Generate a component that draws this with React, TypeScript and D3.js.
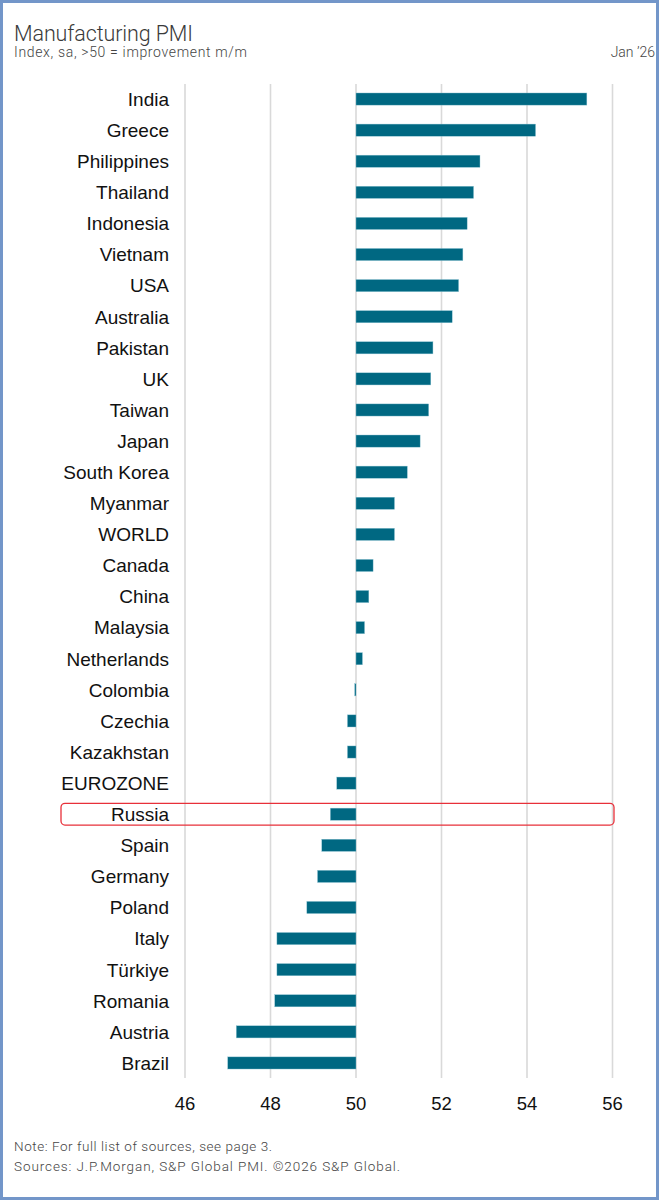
import * as d3 from "d3";

const countries = [
  "India", "Greece", "Philippines", "Thailand", "Indonesia", "Vietnam", "USA", "Australia",
  "Pakistan", "UK", "Taiwan", "Japan", "South Korea", "Myanmar", "WORLD", "Canada",
  "China", "Malaysia", "Netherlands", "Colombia", "Czechia", "Kazakhstan", "EUROZONE", "Russia",
  "Spain", "Germany", "Poland", "Italy", "Türkiye", "Romania", "Austria", "Brazil",
];

const pmi = [
  55.4, 54.2, 52.9, 52.75, 52.6, 52.5, 52.4, 52.25,
  51.8, 51.75, 51.7, 51.5, 51.2, 50.9, 50.9, 50.4,
  50.3, 50.2, 50.15, 49.97, 49.8, 49.8, 49.55, 49.4,
  49.2, 49.1, 48.85, 48.15, 48.15, 48.1, 47.2, 47.0,
];

const xTicks = [46, 48, 50, 52, 54, 56];
const highlighted = "Russia";

const W = 659;
const H = 1200;
const uiFont = "Roboto, 'Liberation Sans', sans-serif";
const labelFont = "'Liberation Sans', Arial, sans-serif";

export default function App() {
  const x = d3.scaleLinear().domain([46, 56]).range([185, 612.5]);
  const y = d3
    .scaleBand<string>()
    .domain(countries)
    .range([83.5, 1078.5])
    .paddingInner(0.61)
    .paddingOuter(0.305);

  const rows = countries.map((c, i) => ({ name: c, value: pmi[i] }));
  const step = y.step();
  const hy = (y(highlighted) || 0) + y.bandwidth() / 2;

  return (
    <svg
      width={W}
      height={H}
      style={{ position: "absolute", left: 0, top: 0, background: "#fff" }}
    >
      <rect x={0} y={0} width={W} height={H} fill="#fff" />

      {/* header */}
      <text x={14} y={41} fontFamily={uiFont} fontWeight={300} fontSize={21.5} fill="#3a3a3a"
        textLength={179} lengthAdjust="spacing">
        Manufacturing PMI
      </text>
      <text x={14} y={57} fontFamily={uiFont} fontWeight={300} fontSize={14} fill="#444"
        textLength={233} lengthAdjust="spacing">
        Index, sa, &gt;50 = improvement m/m
      </text>
      <text x={655} y={57} textAnchor="end" fontFamily={uiFont} fontWeight={300} fontSize={14} fill="#444">
        Jan ’26
      </text>

      {/* gridlines */}
      {xTicks.map((t) => (
        <line
          key={t}
          x1={x(t)}
          x2={x(t)}
          y1={84}
          y2={1078}
          stroke="#d9d9d9"
          strokeWidth={1.6}
        />
      ))}

      {/* bars */}
      {rows.map((d) => {
        const x0 = Math.min(x(50), x(d.value));
        const w = Math.max(0.6, Math.abs(x(d.value) - x(50)));
        return (
          <rect
            key={d.name}
            x={x0}
            y={y(d.name)}
            width={w}
            height={y.bandwidth()}
            fill="#006882"
            stroke="#8cc3d2"
            strokeWidth={0.4}
          />
        );
      })}

      {/* category labels */}
      {rows.map((d) => (
        <text
          key={d.name}
          x={169}
          y={(y(d.name) || 0) + y.bandwidth() / 2}
          dy="0.36em"
          textAnchor="end"
          fontFamily={labelFont}
          fontSize={19}
          fill="#111"
        >
          {d.name}
        </text>
      ))}

      {/* highlight box */}
      <rect
        x={61}
        y={hy - step * 0.35}
        width={553}
        height={step * 0.7}
        rx={4}
        fill="none"
        stroke="#e8303a"
        strokeWidth={1.3}
      />

      {/* axis labels */}
      {xTicks.map((t) => (
        <text
          key={t}
          x={x(t)}
          y={1110}
          textAnchor="middle"
          fontFamily={labelFont}
          fontSize={18.5}
          fill="#111"
        >
          {t}
        </text>
      ))}

      {/* footer */}
      <text x={14} y={1151} fontFamily={uiFont} fontWeight={300} fontSize={13.5} fill="#444"
        textLength={258} lengthAdjust="spacing">
        Note: For full list of sources, see page 3.
      </text>
      <text x={14} y={1171} fontFamily={uiFont} fontWeight={300} fontSize={13.5} fill="#444"
        textLength={386} lengthAdjust="spacing">
        Sources: J.P.Morgan, S&amp;P Global PMI. ©2026 S&amp;P Global.
      </text>

      {/* outer frame */}
      <rect x={1.5} y={1.5} width={W - 3} height={H - 3} fill="none" stroke="#7396c9" strokeWidth={3} />
    </svg>
  );
}
